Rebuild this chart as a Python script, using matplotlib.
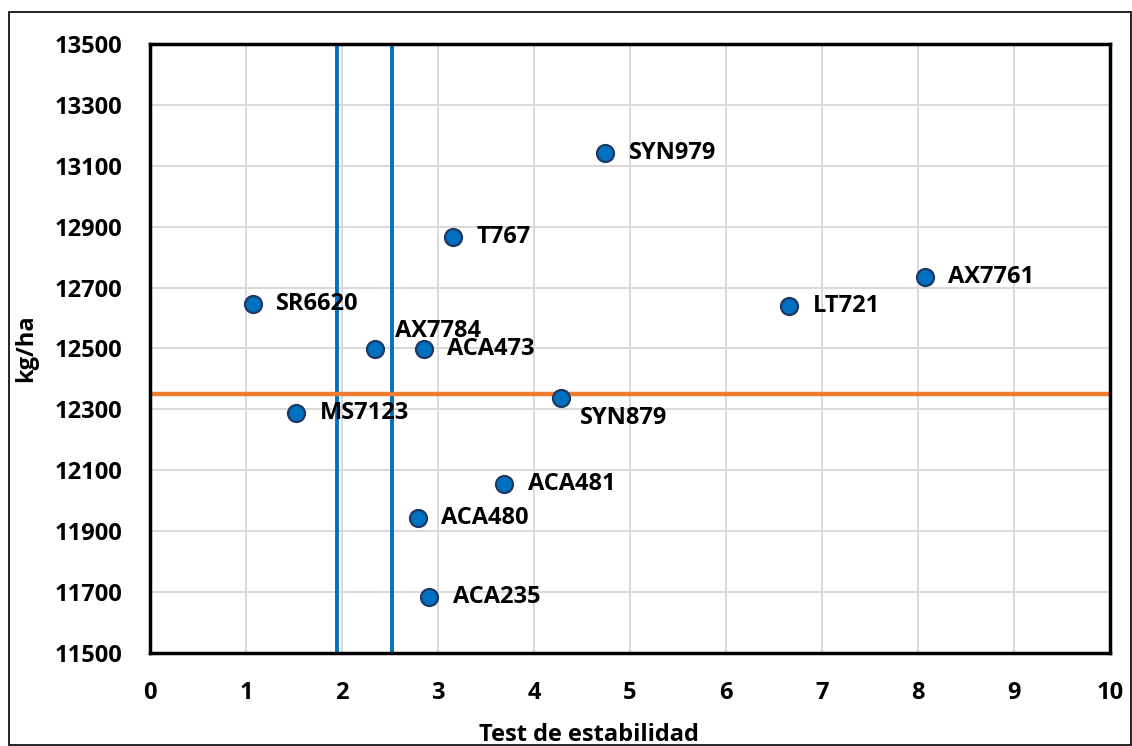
import matplotlib
matplotlib.use("Agg")
import matplotlib.pyplot as plt
from matplotlib.patches import Rectangle

# hybrids: stability test (x) vs yield kg/ha (y)
names = ["SR6620", "MS7123", "AX7784", "ACA473", "T767", "SYN979",
         "SYN879", "ACA481", "ACA480", "ACA235", "LT721", "AX7761"]
estabilidad = [1.07, 1.52, 2.34, 2.85, 3.16, 4.74,
               4.28, 3.69, 2.79, 2.91, 6.66, 8.07]
rendimiento = [12645, 12288, 12497, 12497, 12865, 13141,
               12337, 12054, 11944, 11683, 12638, 12736]

# reference lines
vlines_x = [1.95, 2.52]
hline_y = 12350

xticks = list(range(0, 11))
yticks = list(range(11500, 13501, 200))

plt.rcParams['font.family'] = ['Open Sans', 'DejaVu Sans']
plt.rcParams['font.weight'] = 'bold'

fig = plt.figure(figsize=(11.32, 7.46), dpi=100)
ax = fig.add_axes([0.1325, 0.1247, 0.848, 0.8163])

ax.set_xlim(0, 10)
ax.set_ylim(11500, 13500)
ax.set_xticks(xticks)
ax.set_yticks(yticks)
ax.tick_params(length=0, pad=20, labelsize=17)
for lab in ax.get_xticklabels() + ax.get_yticklabels():
    lab.set_fontweight('bold')
ax.grid(True, color='#D9D9D9', linewidth=1.4, zorder=0)
ax.set_axisbelow(True)
for sp in ax.spines.values():
    sp.set_linewidth(2.5)
    sp.set_color('black')

for xv in vlines_x:
    ax.axvline(xv, color='#0070C0', linewidth=2.8, zorder=2)
ax.axhline(hline_y, color='#ED7D31', linewidth=3.2, zorder=2)

ax.scatter(estabilidad, rendimiento, s=150, color='#0070C0',
           edgecolor='#1F3864', linewidth=1.6, zorder=4)

# label offsets in points (most to the right, a couple shifted)
offsets = {"AX7784": (15, 13.5), "SYN879": (14, -14)}
for n, xv, yv in zip(names, estabilidad, rendimiento):
    dx, dy = offsets.get(n, (17, 0))
    ax.annotate(n, (xv, yv), xytext=(dx, dy), textcoords='offset points',
                ha='left', va='center', fontsize=17, fontweight='bold',
                zorder=5)

ax.set_xlabel('Test de estabilidad', fontsize=17, fontweight='bold', labelpad=12)
ax.xaxis.set_label_coords(0.457, -0.115)
ax.set_ylabel('kg/ha', fontsize=17, fontweight='bold', labelpad=12)

fig.patches.append(Rectangle((9 / 1132, 0.001), 1 - 9 / 1132 - 0.001, 1 - 12 / 746 - 0.001,
                             transform=fig.transFigure, fill=False,
                             edgecolor='black', linewidth=1.2))

fig.savefig('out.png', dpi=100)
